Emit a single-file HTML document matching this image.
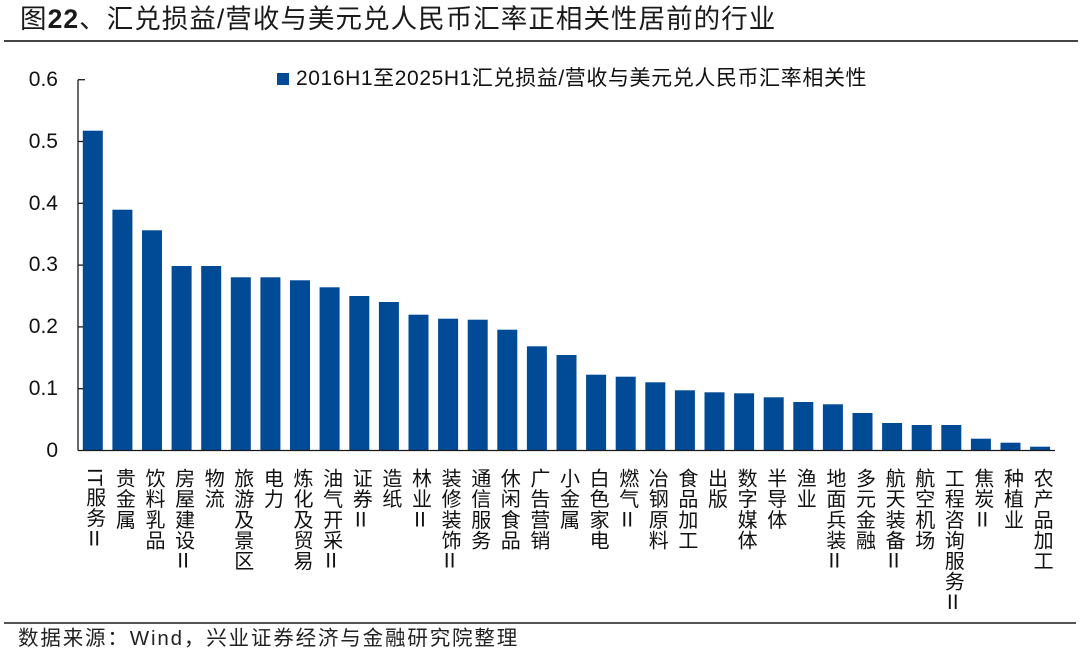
<!DOCTYPE html>
<html><head><meta charset="utf-8">
<style>
html,body{margin:0;padding:0;background:#fff;}
body{width:1080px;height:653px;position:relative;overflow:hidden;font-family:"Liberation Sans","Noto Sans CJK SC",sans-serif;color:#111;}
.title{position:absolute;left:20px;top:3px;font-size:26.5px;letter-spacing:1.05px;line-height:32px;white-space:nowrap;color:#1a1a1a;}
.title b{font-weight:bold;}
.hr1{position:absolute;left:4px;top:40px;width:1074px;height:2px;background:#444;}
.hr2{position:absolute;left:4px;top:622px;width:1072px;height:2px;background:#555;}
.foot{position:absolute;left:18px;top:625px;font-size:20.5px;line-height:28px;letter-spacing:1.85px;white-space:nowrap;color:#222;}
.ylab{position:absolute;width:50px;left:8px;text-align:right;font-size:21px;line-height:24px;color:#111;}
.leg{position:absolute;left:296px;top:66px;font-size:21px;letter-spacing:0.6px;line-height:26px;white-space:nowrap;color:#111;}
.legsq{position:absolute;left:277px;top:73px;width:12px;height:12px;background:#014b96;}
.xl{position:absolute;top:468px;writing-mode:vertical-rl;font-size:20px;letter-spacing:0.6px;line-height:22px;white-space:nowrap;color:#111;font-family:"Liberation Sans","Noto Sans CJK SC",sans-serif;}
.up{text-orientation:upright;font-family:"Noto Sans CJK SC","WenQuanYi Zen Hei",sans-serif;}
</style></head>
<body>
<div class="title">图<b>22</b>、汇兑损益/营收与美元兑人民币汇率正相关性居前的行业</div>
<div class="hr1"></div>

<div class="legsq"></div>
<div class="leg">2016H1至2025H1汇兑损益/营收与美元兑人民币汇率相关性</div>

<div class="ylab" style="top:68px">0.6</div>
<div class="ylab" style="top:129.5px">0.5</div>
<div class="ylab" style="top:191.5px">0.4</div>
<div class="ylab" style="top:253px">0.3</div>
<div class="ylab" style="top:315px">0.2</div>
<div class="ylab" style="top:377px">0.1</div>
<div class="ylab" style="top:438.5px">0</div>

<svg width="1080" height="653" style="position:absolute;left:0;top:0" xmlns="http://www.w3.org/2000/svg">
<g fill="#014b96">
<rect x="82.8" y="130.7" width="20" height="319.8"/>
<rect x="112.4" y="209.7" width="20" height="240.8"/>
<rect x="142.0" y="230.3" width="20" height="220.2"/>
<rect x="171.6" y="266" width="20" height="184.5"/>
<rect x="201.2" y="266" width="20" height="184.5"/>
<rect x="230.8" y="277.3" width="20" height="173.2"/>
<rect x="260.4" y="277.3" width="20" height="173.2"/>
<rect x="290.0" y="280.3" width="20" height="170.2"/>
<rect x="319.6" y="287.3" width="20" height="163.2"/>
<rect x="349.3" y="296" width="20" height="154.5"/>
<rect x="378.9" y="302" width="20" height="148.5"/>
<rect x="408.5" y="314.7" width="20" height="135.8"/>
<rect x="438.1" y="318.7" width="20" height="131.8"/>
<rect x="467.7" y="319.7" width="20" height="130.8"/>
<rect x="497.3" y="329.7" width="20" height="120.8"/>
<rect x="526.9" y="346.3" width="20" height="104.2"/>
<rect x="556.5" y="355" width="20" height="95.5"/>
<rect x="586.1" y="374.7" width="20" height="75.8"/>
<rect x="615.7" y="376.7" width="20" height="73.8"/>
<rect x="645.3" y="382.3" width="20" height="68.2"/>
<rect x="674.9" y="390.3" width="20" height="60.2"/>
<rect x="704.5" y="392.3" width="20" height="58.2"/>
<rect x="734.1" y="393.3" width="20" height="57.2"/>
<rect x="763.7" y="397.3" width="20" height="53.2"/>
<rect x="793.3" y="402" width="20" height="48.5"/>
<rect x="822.9" y="404.3" width="20" height="46.2"/>
<rect x="852.5" y="413" width="20" height="37.5"/>
<rect x="882.1" y="423" width="20" height="27.5"/>
<rect x="911.7" y="425" width="20" height="25.5"/>
<rect x="941.3" y="425" width="20" height="25.5"/>
<rect x="970.9" y="438.7" width="20" height="11.8"/>
<rect x="1000.5" y="442.7" width="20" height="7.8"/>
<rect x="1030.1" y="446.7" width="20" height="3.8"/>
</g>
<g stroke="#1a1a1a" stroke-width="1.3" fill="none">
<line x1="78" y1="79.7" x2="78" y2="450.5"/>
<line x1="78" y1="450.5" x2="1055" y2="450.5"/>
<line x1="78" y1="79.7" x2="85" y2="79.7"/>
<line x1="78" y1="141.5" x2="83" y2="141.5"/>
<line x1="78" y1="203.3" x2="83" y2="203.3"/>
<line x1="78" y1="265.1" x2="83" y2="265.1"/>
<line x1="78" y1="326.9" x2="83" y2="326.9"/>
<line x1="78" y1="388.7" x2="83" y2="388.7"/>
</g>
</svg>

<div class="xl" style="left:82.8px">IT服务<span class="up">Ⅱ</span></div>
<div class="xl" style="left:112.4px">贵金属</div>
<div class="xl" style="left:142.0px">饮料乳品</div>
<div class="xl" style="left:171.6px">房屋建设<span class="up">Ⅱ</span></div>
<div class="xl" style="left:201.2px">物流</div>
<div class="xl" style="left:230.8px">旅游及景区</div>
<div class="xl" style="left:260.4px">电力</div>
<div class="xl" style="left:290.0px">炼化及贸易</div>
<div class="xl" style="left:319.6px">油气开采<span class="up">Ⅱ</span></div>
<div class="xl" style="left:349.3px">证券<span class="up">Ⅱ</span></div>
<div class="xl" style="left:378.9px">造纸</div>
<div class="xl" style="left:408.5px">林业<span class="up">Ⅱ</span></div>
<div class="xl" style="left:438.1px">装修装饰<span class="up">Ⅱ</span></div>
<div class="xl" style="left:467.7px">通信服务</div>
<div class="xl" style="left:497.3px">休闲食品</div>
<div class="xl" style="left:526.9px">广告营销</div>
<div class="xl" style="left:556.5px">小金属</div>
<div class="xl" style="left:586.1px">白色家电</div>
<div class="xl" style="left:615.7px">燃气<span class="up">Ⅱ</span></div>
<div class="xl" style="left:645.3px">冶钢原料</div>
<div class="xl" style="left:674.9px">食品加工</div>
<div class="xl" style="left:704.5px">出版</div>
<div class="xl" style="left:734.1px">数字媒体</div>
<div class="xl" style="left:763.7px">半导体</div>
<div class="xl" style="left:793.3px">渔业</div>
<div class="xl" style="left:822.9px">地面兵装<span class="up">Ⅱ</span></div>
<div class="xl" style="left:852.5px">多元金融</div>
<div class="xl" style="left:882.1px">航天装备<span class="up">Ⅱ</span></div>
<div class="xl" style="left:911.7px">航空机场</div>
<div class="xl" style="left:941.3px">工程咨询服务<span class="up">Ⅱ</span></div>
<div class="xl" style="left:970.9px">焦炭<span class="up">Ⅱ</span></div>
<div class="xl" style="left:1000.5px">种植业</div>
<div class="xl" style="left:1030.1px">农产品加工</div>

<div class="hr2"></div>
<div class="foot">数据来源：Wind，兴业证券经济与金融研究院整理</div>
</body></html>
